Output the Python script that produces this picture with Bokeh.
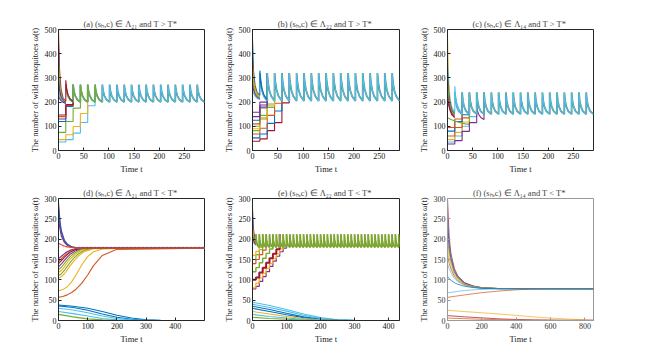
from bokeh.plotting import figure
from bokeh.layouts import column, row
from bokeh.models import Range1d, FixedTicker
from bokeh.embed import file_html
from bokeh.resources import INLINE

FONT = "Liberation Serif"
B, O, Y, P, G, C, R = "#0072BD", "#D95319", "#EDB120", "#7E2F8E", "#77AC30", "#4DBEEE", "#A2142F"

TITLES = [
    "(a)  (sₕ,c) ∈ Λ₂₁ and T > T*",
    "(b)  (sₕ,c) ∈ Λ₂₂ and T > T*",
    "(c)  (sₕ,c) ∈ Λ₁₄ and T > T*",
    "(d)  (sₕ,c) ∈ Λ₂₁ and T < T*",
    "(e)  (sₕ,c) ∈ Λ₂₂ and T < T*",
    "(f)  (sₕ,c) ∈ Λ₁₄ and T < T*",
]
X_LABEL = "Time t"
Y_LABEL = "The number of wild mosquitoes ω(t)"

# ---------- release times ----------
REL_ABC = [0, 14.5, 29, 43.5, 58, 72.5, 87, 101.5, 116, 130.5, 145, 159.5, 174,
           188.5, 203, 217.5, 232, 246.5, 261, 275.5]
REL_E = [0, 10, 20, 30, 40, 50, 60, 70, 80, 90, 100, 110, 120, 130, 140, 150, 160,
         170, 180, 190, 200, 210, 220, 230, 240, 250, 260, 270, 280, 290, 300, 310,
         320, 330, 340, 350, 360, 370, 380, 390, 400, 410, 420, 430]

# ---------- panel (a) ----------
A_TOOTH_DT = [0, 1.5, 4, 8, 14.5]
A_TOOTH = [272, 247, 227, 211, 200]
A_UP_T = [0, 2, 5, 9, 14.5]
A_UP = [[500, 340, 255, 218, 203], [440, 310, 240, 212, 200], [380, 285, 232, 210, 199],
        [340, 270, 228, 208, 198], [300, 255, 222, 206, 197], [270, 240, 217, 204, 196],
        [250, 230, 213, 202, 195], [225, 215, 206, 199, 194]]
A_UP_COL = [O, P, G, Y, B, R, C, P]
A_FIRST_T = [14.5, 14.5, 16, 18.5, 22.5, 29]
A_FIRST = [203, 290, 258, 233, 215, 202]
A_LOW = [[35, 45, 72, 116, 185], [45, 65, 99, 153], [75, 120, 175],
         [120, 182], [130, 186], [140, 188], [147, 190]]
A_LOW_COL = [C, Y, G, B, P, O, R]

# ---------- panel (b) ----------
B_TOOTH_DT = [0, 1.5, 4, 8, 14.5]
B_TOOTH = [320, 283, 250, 224, 205]
B_UP_T = [0, 2, 5, 9, 14.5]
B_UP = [[460, 330, 270, 240, 228], [380, 300, 258, 235, 225], [340, 285, 250, 232, 222],
        [300, 265, 240, 226, 218], [270, 250, 232, 220, 214], [250, 238, 225, 216, 210]]
B_UP_COL = [B, O, Y, G, P, C]
B_FIRST_T = [14.5, 14.5, 16, 18.5, 22.5, 29]
B_FIRST = [228, 330, 292, 258, 230, 210]
B_LOW = [[38, 48, 82, 115, 197], [52, 68, 112, 163], [68, 92, 145, 195],
         [82, 130, 178], [100, 145, 192], [90, 135, 185], [110, 176],
         [125, 180], [140, 188], [158, 200]]
B_LOW_COL = [R, B, O, G, G, Y, O, B, P, P]

# ---------- panel (c) ----------
C_TOOTH_DT = [0, 1.5, 4, 8, 14.5]
C_TOOTH = [240, 207, 181, 162, 150]
C_UP_T = [0, 2, 5, 9, 14.5]
C_UP = [[470, 300, 215, 175, 160], [370, 265, 205, 172, 158], [330, 245, 195, 165, 152],
        [290, 230, 188, 162, 148], [260, 215, 180, 156, 145], [230, 200, 172, 150, 140],
        [210, 190, 166, 146, 136]]
C_UP_COL = [Y, C, B, O, G, P, R]
C_FIRST_T = [14.5, 14.5, 16, 18.5, 22.5, 29]
C_FIRST = [158, 265, 225, 195, 172, 155]
C_LOW = [[35, 60, 100, 140], [45, 75, 118], [60, 95, 135], [80, 120, 148], [95, 130]]
C_LOW_COL = [C, Y, O, B, O]
C_PUR_T = [0, 14.5, 14.5, 29, 29, 43.5, 43.5, 58, 58, 60, 63, 67, 72.5, 72.5]
C_PUR = [27, 27, 41, 41, 79, 79, 115, 115, 180, 160, 145, 135, 128, 240]
C_GRN_T = [0, 7, 14.5, 22, 29, 36, 43.5, 43.5]
C_GRN = [135, 128, 122, 117, 113, 110, 108, 205]

# ---------- panel (d) ----------
D_T_HIGH = [0, 5, 10, 20, 30, 45, 60, 80, 120, 500]
D_HIGH = [[290, 245, 220, 198, 188, 181, 179, 178, 178, 178],
          [275, 238, 215, 196, 187, 181, 179, 178, 178, 178],
          [250, 225, 207, 192, 185, 180, 178.5, 178, 178, 178],
          [190, 188, 186, 183, 181, 179.5, 178.5, 178, 178, 178]]
D_HIGH_COL = [P, B, P, O]
D_T_MID = [0, 10, 20, 30, 40, 55, 70, 90, 120, 500]
D_MID = [[152, 158, 164, 169, 173, 176, 177.5, 178, 178, 178],
         [145, 152, 159, 165, 170, 174.5, 177, 178, 178, 178],
         [140, 147, 155, 162, 168, 173.5, 176.5, 178, 178, 178],
         [132, 139, 148, 156, 163, 170, 174.5, 177.5, 178, 178],
         [125, 131, 140, 149, 157, 166, 172, 176.5, 178, 178],
         [118, 123, 132, 142, 151, 161, 169, 175, 178, 178],
         [110, 115, 123, 133, 143, 155, 165, 173, 177.5, 178],
         [104, 108, 115, 124, 135, 148, 160, 170, 176.5, 178]]
D_MID_COL = [P, O, R, P, G, Y, G, Y]
D_T_SLOW = [0, 15, 30, 45, 60, 80, 100, 120, 150, 200, 500]
D_SLOW = [[73, 76, 83, 95, 112, 137, 157, 169, 176, 178, 178],
          [57, 59, 63, 69, 77, 92, 112, 135, 160, 175, 178]]
D_SLOW_COL = [Y, O]
D_T_LOW = [0, 50, 100, 150, 200, 250, 300, 350, 500]
D_LOW = [[38, 35, 30, 22, 13, 6, 2, 0.5, 0], [36, 32, 25, 16, 8, 3, 1, 0, 0],
         [30, 26, 19, 11, 5, 1.5, 0.5, 0, 0], [22, 17, 11, 5, 2, 0.5, 0, 0, 0],
         [15, 9, 4, 1.5, 0.5, 0, 0, 0, 0]]
D_LOW_COL = [B, B, C, C, G]
D_DOT_X = [0, 500]
D_DOT_Y = [181, 181]

# ---------- panel (e) ----------
E_TOOTH_DT = [0, 1, 2.5, 5, 10]
E_TOOTH = [212, 200, 191, 184, 180]
E_UP_T = [0, 2, 4, 7, 10]
E_UP = [[275, 235, 215, 200, 192], [255, 228, 210, 198, 190], [240, 222, 206, 196, 189],
        [225, 214, 202, 193, 188], [215, 207, 198, 191, 187], [205, 200, 194, 189, 186],
        [195, 193, 190, 187, 185]]
E_UP_COL = [P, B, O, Y, G, R, C]
E_LOW = [[78, 84, 96, 108, 120, 133, 146, 158, 169, 178],
         [80, 92, 104, 116, 128, 140, 152, 164, 176],
         [100, 106, 118, 130, 142, 153, 164, 175],
         [120, 130, 142, 153, 165, 176],
         [140, 150, 162, 173],
         [150, 162, 174],
         [160, 170, 180]]
E_LOW_COL = [P, Y, R, G, O, G, Y]
E_LOW_W = [1.2, 1.2, 2.0, 1.4, 1.2, 1.2, 1.2]
E_T_DEC = [0, 50, 100, 150, 200, 250, 300, 430]
E_DEC = [[45, 37, 27, 16, 7, 2, 0.5, 0], [40, 32, 23, 13, 5, 1.5, 0.3, 0],
         [35, 27, 18, 9, 3, 1, 0, 0], [30, 22, 14, 7, 2, 0.5, 0, 0],
         [22, 16, 10, 5, 1.5, 0.3, 0, 0], [15, 10, 6, 3, 1, 0, 0, 0],
         [8, 5, 3, 1, 0, 0, 0, 0]]
E_DEC_COL = [C, C, B, B, Y, C, G]

# ---------- panel (f) ----------
F_T_HIGH = [0, 10, 20, 40, 60, 100, 150, 200, 300, 850]
F_HIGH = [[300, 205, 165, 128, 110, 93, 85, 81, 78.5, 78],
          [250, 185, 155, 123, 107, 92, 84, 80.5, 78.5, 78],
          [230, 175, 150, 120, 105, 91, 84, 80.5, 78.5, 78],
          [200, 165, 143, 116, 103, 90, 83.5, 80, 78.5, 78],
          [180, 152, 135, 112, 101, 89, 83, 80, 78.5, 78],
          [160, 140, 127, 108, 98, 88, 82.5, 79.5, 78.5, 78],
          [140, 127, 118, 103, 95, 86, 81.5, 79.5, 78.3, 78],
          [108, 103, 99, 93, 89, 84, 81, 79, 78.2, 78]]
F_HIGH_COL = [R, B, P, G, Y, O, C, B]
F_T_LOW = [0, 100, 200, 300, 400, 500, 600, 700, 850]
F_LOW = [[68, 74, 76.5, 77.5, 78, 78, 78, 78, 78],
         [57, 63, 68.5, 72.5, 75.5, 77, 77.8, 78, 78],
         [25, 22, 19, 16, 12.5, 9, 6, 3.5, 1],
         [12, 9, 6.5, 4, 2.5, 1.5, 1, 0.5, 0.5],
         [6, 4.5, 3, 2, 1.2, 0.7, 0.4, 0.2, 0]]
F_LOW_COL = [C, O, Y, R, O]

TICKS_X_ABC = [0, 50, 100, 150, 200, 250]
TICKS_X_D = [0, 100, 200, 300, 400]
TICKS_X_E = [0, 100, 200, 300, 400]
TICKS_X_F = [0, 200, 400, 600, 800]
TICKS_Y_TOP = [0, 100, 200, 300, 400, 500]
TICKS_Y_BOT = [0, 50, 100, 150, 200, 250, 300]


def tail(rel, start, dt, vals):
    xs, ys = [], []
    for t in rel[start:]:
        for d, v in zip(dt, vals):
            xs.append(t + d)
            ys.append(v)
    return xs, ys


def stairs(rel, levels, peak):
    xs, ys = [], []
    for i, v in enumerate(levels):
        xs += [rel[i], rel[i + 1]]
        ys += [v, v]
    xs.append(rel[len(levels)])
    ys.append(peak)
    return xs, ys


def make_fig(width, height, left, right, top, bottom, xr, yr, xt, yt, title, gray=False):
    p = figure(width=width, height=height, output_backend="svg", toolbar_location=None,
               x_range=Range1d(*xr), y_range=Range1d(*yr),
               min_border_left=left, min_border_right=right,
               min_border_top=top, min_border_bottom=bottom, title=title)
    p.grid.visible = False
    p.background_fill_color = "white"
    p.border_fill_color = "white"
    col = "#9a9a9a" if gray else "#262626"
    p.xaxis.ticker = FixedTicker(ticks=xt)
    p.yaxis.ticker = FixedTicker(ticks=yt)
    for ax in (p.xaxis[0], p.yaxis[0]):
        ax.major_tick_in = 3
        ax.major_tick_out = 0
        ax.minor_tick_line_color = None
        ax.axis_line_color = col
        ax.major_tick_line_color = col
        ax.major_label_text_font = FONT
        ax.major_label_text_font_size = "8px"
        ax.major_label_text_color = "#333333" if gray else "#111111"
        ax.axis_label_text_font = FONT
        ax.axis_label_text_font_size = "8.5px"
        ax.axis_label_text_font_style = "normal"
        ax.axis_label_text_color = "#222222"
        ax.major_label_standoff = 2
        ax.axis_label_standoff = 2
    p.xaxis.axis_label = X_LABEL
    p.yaxis.axis_label = Y_LABEL
    p.outline_line_color = col
    p.outline_line_alpha = 1
    p.title.text_font = FONT
    p.title.text_font_size = "8.5px"
    p.title.text_font_style = "normal"
    p.title.align = "center"
    p.title.standoff = 2
    return p


LW = 1.1

# (a)
pa = make_fig(215, 176, 58, 11, 29, 23, (0, 290), (0, 500), TICKS_X_ABC, TICKS_Y_TOP, TITLES[0])
for ys, c in zip(A_UP, A_UP_COL):
    pa.line(A_UP_T, ys, line_color=c, line_width=LW)
for lv, c in zip(A_LOW, A_LOW_COL):
    xs, ys = stairs(REL_ABC, lv, A_TOOTH[0])
    pa.line(xs, ys, line_color=c, line_width=LW)
xs, ys = tail(REL_ABC, 1, A_TOOTH_DT, A_TOOTH)
pa.line(xs, ys, line_color="#5f8f7a", line_width=1.8)
pa.line(xs, ys, line_color=C, line_width=1.1)
xs, ys = tail(REL_ABC[:6], 1, A_TOOTH_DT, A_TOOTH)
pa.line(xs, ys, line_color=G, line_width=1.2)
pa.line(A_FIRST_T, A_FIRST, line_color=R, line_width=LW)

# (b)
pb = make_fig(200, 176, 37, 16, 29, 23, (0, 290), (0, 500), TICKS_X_ABC, TICKS_Y_TOP, TITLES[1])
for ys, c in zip(B_UP, B_UP_COL):
    pb.line(B_UP_T, ys, line_color=c, line_width=LW)
for lv, c in zip(B_LOW, B_LOW_COL):
    xs, ys = stairs(REL_ABC, lv, B_TOOTH[0])
    pb.line(xs, ys, line_color=c, line_width=LW)
xs, ys = tail(REL_ABC, 1, B_TOOTH_DT, B_TOOTH)
pb.line(xs, ys, line_color="#5f8f7a", line_width=1.8)
pb.line(xs, ys, line_color=C, line_width=1.1)
pb.line(B_FIRST_T, B_FIRST, line_color=B, line_width=LW)

# (c)
pc = make_fig(256, 176, 31, 78, 29, 23, (0, 290), (0, 500), TICKS_X_ABC, TICKS_Y_TOP, TITLES[2])
for ys, c in zip(C_UP, C_UP_COL):
    pc.line(C_UP_T, ys, line_color=c, line_width=LW)
for lv, c in zip(C_LOW, C_LOW_COL):
    xs, ys = stairs(REL_ABC, lv, C_TOOTH[0])
    pc.line(xs, ys, line_color=c, line_width=LW)
pc.line(C_GRN_T, C_GRN, line_color=G, line_width=LW)
pc.line(C_PUR_T, C_PUR, line_color=P, line_width=LW)
xs, ys = tail(REL_ABC, 1, C_TOOTH_DT, C_TOOTH)
pc.line(xs, ys, line_color="#5f8f7a", line_width=1.8)
pc.line(xs, ys, line_color=C, line_width=1.1)
pc.line(C_FIRST_T, C_FIRST, line_color=C, line_width=LW)

# (d)
pd_ = make_fig(215, 177, 58, 11, 22, 33, (0, 500), (0, 300), TICKS_X_D, TICKS_Y_BOT, TITLES[3])
for ys, c in zip(D_LOW, D_LOW_COL):
    pd_.line(D_T_LOW, ys, line_color=c, line_width=LW)
for ys, c in zip(D_SLOW, D_SLOW_COL):
    pd_.line(D_T_SLOW, ys, line_color=c, line_width=LW)
for ys, c in zip(D_MID, D_MID_COL):
    pd_.line(D_T_MID, ys, line_color=c, line_width=LW)
for ys, c in zip(D_HIGH, D_HIGH_COL):
    pd_.line(D_T_HIGH, ys, line_color=c, line_width=LW)
pd_.line(D_DOT_X, D_DOT_Y, line_color=P, line_width=0.8, line_alpha=0.6, line_dash="1 3")

# (e)
pe = make_fig(200, 177, 37, 16, 22, 33, (0, 432), (0, 300), TICKS_X_E, TICKS_Y_BOT, TITLES[4])
for ys, c in zip(E_DEC, E_DEC_COL):
    pe.line(E_T_DEC, ys, line_color=c, line_width=LW)
for ys, c in zip(E_UP, E_UP_COL):
    pe.line(E_UP_T, ys, line_color=c, line_width=LW)
for lv, c, w in zip(E_LOW, E_LOW_COL, E_LOW_W):
    xs, ys = stairs(REL_E, lv, E_TOOTH[0])
    pe.line(xs, ys, line_color=c, line_width=w)
xs, ys = tail(REL_E, 1, E_TOOTH_DT, E_TOOTH)
pe.line(xs, ys, line_color="#8a9a3a", line_width=1.8)
pe.line(xs, ys, line_color=G, line_width=1.1)

# (f)
pf = make_fig(256, 177, 31, 78, 22, 33, (0, 850), (0, 300), TICKS_X_F, TICKS_Y_BOT, TITLES[5], gray=True)
for ys, c in zip(F_LOW, F_LOW_COL):
    pf.line(F_T_LOW, ys, line_color=c, line_width=0.9, line_alpha=0.8)
for ys, c in zip(F_HIGH, F_HIGH_COL):
    pf.line(F_T_HIGH, ys, line_color=c, line_width=0.9, line_alpha=0.8)

layout = column(row(pa, pb, pc), row(pd_, pe, pf))
open("out.html", "w").write(file_html(layout, INLINE))
